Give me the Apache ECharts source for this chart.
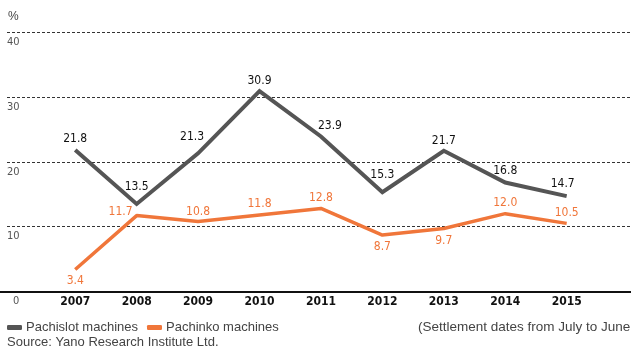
<!DOCTYPE html>
<html><head><meta charset="utf-8">
<script src="https://cdn.jsdelivr.net/npm/echarts@6/dist/echarts.min.js"></script>
<style>html,body{margin:0;padding:0;background:#fff}#c{width:631px;height:354px}</style>
</head><body><div id="c"></div>
<script>
const years = ['2007','2008','2009','2010','2011','2012','2013','2014','2015'];
const pachislot = [21.8, 13.5, 21.3, 30.9, 23.9, 15.3, 21.7, 16.8, 14.7];
const pachinko = [3.4, 11.7, 10.8, 11.8, 12.8, 8.7, 9.7, 12.0, 10.5];
const yTicks = [0, 10, 20, 30, 40];

const NARROW = "'Liberation Sans Narrow','DejaVu Sans Condensed',sans-serif";
const SANS = "'Liberation Sans',Arial,sans-serif";
const GRAY = '#555555', ORANGE = '#f0763a';

// label placement tweaks (presentation only)
const slotLbl = [
  {position:'top', distance:5},
  {position:'top', distance:11},
  {position:'top', distance:10, offset:[-6,0]},
  {position:'top', distance:4},
  {position:'top', distance:5, offset:[9,0]},
  {position:'top', distance:11},
  {position:'top', distance:4},
  {position:'top', distance:6},
  {position:'top', distance:6, offset:[-4,0]}
];
const pinkLbl = [
  {position:'bottom', distance:5},
  {position:'left', distance:4, offset:[0,-4]},
  {position:'top', distance:4},
  {position:'top', distance:5},
  {position:'top', distance:5},
  {position:'bottom', distance:6},
  {position:'bottom', distance:6},
  {position:'top', distance:5},
  {position:'top', distance:5}
];

const chart = echarts.init(document.getElementById('c'), null, {renderer:'canvas'});
const gTop = 32, gBottom = 62.5;
chart.setOption({
  animation:false,
  backgroundColor:'#fff',
  title:[
    {text:'%', left:8, top:11, padding:0, textStyle:{fontFamily:SANS, fontSize:12, fontWeight:'normal', color:'#444'}},
    {text:'Source: Yano Research Institute Ltd.', left:7, top:336, padding:0, textStyle:{fontFamily:SANS, fontSize:13, fontWeight:'normal', color:'#444'}},
    {text:'(Settlement dates from July to June', left:418, top:320, padding:0, textStyle:{fontFamily:SANS, fontSize:13.5, fontWeight:'normal', color:'#444'}}
  ],
  legend:{
    left:2, top:316, itemWidth:15, itemHeight:5, itemGap:9, icon:'roundRect',
    textStyle:{fontFamily:SANS, fontSize:13, color:'#444', padding:[0,0,0,-1]},
    data:['Pachislot machines','Pachinko machines']
  },
  grid:[
    {left:7, right:0, top:gTop, bottom:gBottom},
    {left:44.5, right:33.6, top:gTop, bottom:gBottom},
    {left:0, right:0, top:gTop, bottom:gBottom}
  ],
  xAxis:[
    {gridIndex:0, type:'category', data:years, show:false},
    {gridIndex:1, type:'category', data:years, boundaryGap:true,
     axisLine:{show:false}, axisTick:{show:false},
     axisLabel:{margin:4, fontFamily:NARROW, fontSize:12, fontWeight:'bold', color:'#111'}},
    {gridIndex:2, type:'category', data:years, axisLine:{show:true, lineStyle:{color:'#111', width:2}},
     axisTick:{show:false}, axisLabel:{show:false}}
  ],
  yAxis:[
    {gridIndex:0, type:'value', min:yTicks[0], max:yTicks[yTicks.length-1], interval:10,
     axisLine:{show:false}, axisTick:{show:false},
     splitLine:{show:true, lineStyle:{color:'#333', width:1, type:[3,2]}},
     axisLabel:{inside:true, margin:0, verticalAlign:'top', lineHeight:20, fontFamily:NARROW, fontSize:11, color:'#555',
       formatter:v => v === 0 ? '{z|0}' : String(v),
       rich:{z:{padding:[0,0,0,6], fontFamily:NARROW, fontSize:11, color:'#555', lineHeight:20}}}},
    {gridIndex:1, type:'value', min:0, max:40, show:false},
    {gridIndex:2, type:'value', min:0, max:40, show:false}
  ],
  series:[
    {name:'Pachislot machines', type:'line', xAxisIndex:1, yAxisIndex:1, symbol:'circle', symbolSize:0, showSymbol:true,
     lineStyle:{color:GRAY, width:4, join:'miter'}, itemStyle:{color:GRAY},
     label:{show:true, fontFamily:NARROW, fontSize:12, color:'#111', formatter:p => Number(p.value).toFixed(1)},
     data:pachislot.map((v,i)=>({value:v, label:slotLbl[i]}))},
    {name:'Pachinko machines', type:'line', xAxisIndex:1, yAxisIndex:1, symbol:'circle', symbolSize:0, showSymbol:true,
     lineStyle:{color:ORANGE, width:3.5}, itemStyle:{color:ORANGE},
     label:{show:true, fontFamily:NARROW, fontSize:12, color:ORANGE, formatter:p => Number(p.value).toFixed(1)},
     data:pachinko.map((v,i)=>({value:v, label:pinkLbl[i]}))}
  ]
});
</script></body></html>
